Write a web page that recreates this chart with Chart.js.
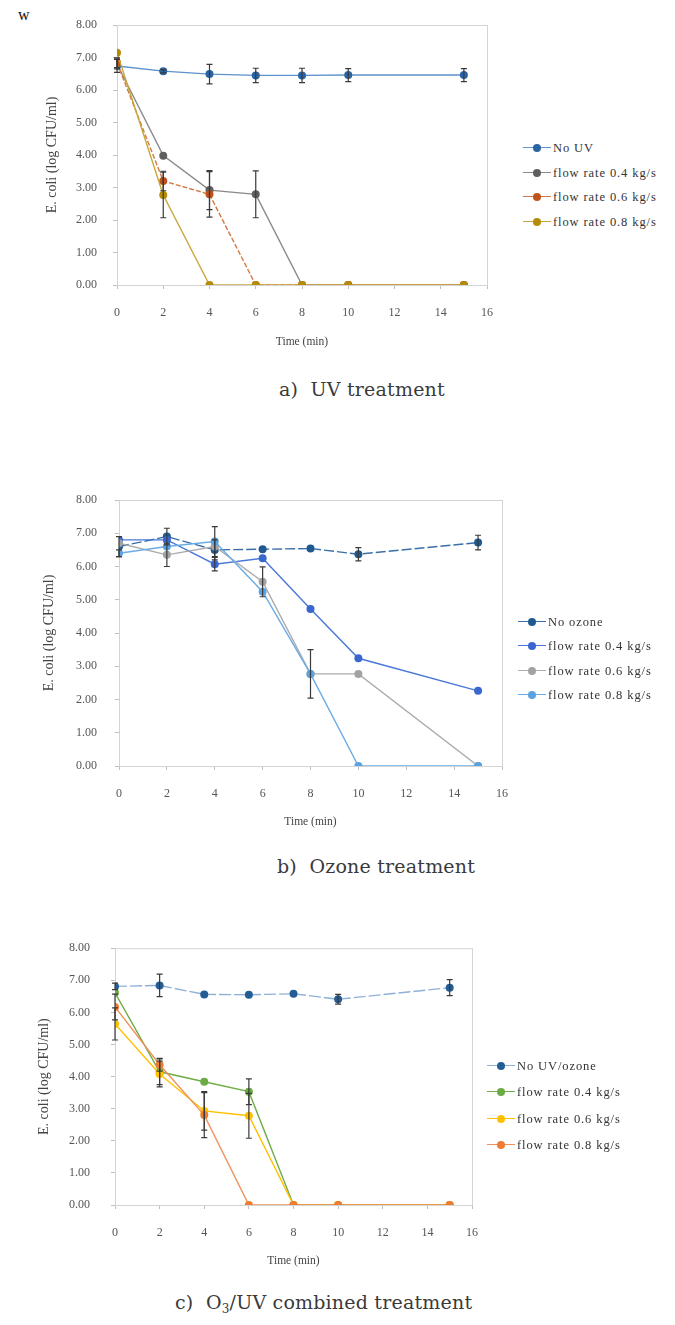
<!DOCTYPE html>
<html>
<head>
<meta charset="utf-8">
<script src="https://cdn.jsdelivr.net/npm/chart.js@4/dist/chart.umd.min.js"></script>
<style>
  body { margin: 0; background: #fff; width: 675px; height: 1325px; position: relative; overflow: hidden; }
  canvas { position: absolute; left: 0; }
  .legend { position: absolute; font-family: "Liberation Serif", serif; font-size: 12.5px; color: #333; letter-spacing: 0.9px; }
  .row { position: absolute; white-space: nowrap; height: 14px; line-height: 14px; }
  .row .ln { position: absolute; left: 0; top: 6px; width: 28px; height: 0; border-top: 1.5px solid; }
  .row .dot { position: absolute; left: 10px; top: 3px; width: 8px; height: 8px; border-radius: 50%; }
  .row .txt { position: absolute; left: 30px; top: 0; }
  .caption { position: absolute; font-family: "DejaVu Serif", serif; font-size: 19px; color: #3a3a3a; white-space: nowrap; letter-spacing: 0.2px; }
  #mark { position: absolute; left: 18px; top: 6px; font-family: "Liberation Serif", serif; font-size: 16px; color: #111; }
</style>
</head>
<body>
<div id="mark">w</div>

<canvas id="uvChart" width="510" height="360" style="top:0px"></canvas>
<canvas id="ozoneChart" width="525" height="380" style="top:470px"></canvas>
<canvas id="comboChart" width="495" height="360" style="top:920px"></canvas>

<div class="legend" id="uvLegend"></div>
<div class="legend" id="ozoneLegend"></div>
<div class="legend" id="comboLegend"></div>

<div class="caption" style="left:279px; top:378px;">a)&nbsp; UV treatment</div>
<div class="caption" style="left:277px; top:855px;">b)&nbsp; Ozone treatment</div>
<div class="caption" style="left:175px; top:1291px;">c)&nbsp; O<span style="font-size:12px; position:relative; top:4px;">3</span>/UV combined treatment</div>

<script>
// sampling times (min)
const times = [0, 2, 4, 6, 8, 10, 15];
const xTicks = [0, 2, 4, 6, 8, 10, 12, 14, 16];

// a) UV treatment
const uvLabels = ["No UV", "flow rate 0.4 kg/s", "flow rate 0.6 kg/s", "flow rate 0.8 kg/s"];
const noUV = [6.74, 6.58, 6.49, 6.45, 6.45, 6.46, 6.46];
const noUVErr = [0.2, 0.05, 0.3, 0.22, 0.22, 0.2, 0.2];
const uv04 = [6.8, 3.98, 2.92, 2.79, 0, 0, 0];
const uv04Err = [0.15, 0, 0.6, 0.72, 0, 0, 0];
const uv06 = [6.84, 3.2, 2.79, 0, 0, 0, 0];
const uv06Err = [0.15, 0.3, 0.7, 0, 0, 0, 0];
const uv08 = [7.15, 2.77, 0, 0, 0, 0, 0];
const uv08Err = [0, 0.7, 0, 0, 0, 0, 0];

// b) Ozone treatment
const ozLabels = ["No ozone", "flow rate 0.4 kg/s", "flow rate 0.6 kg/s", "flow rate 0.8 kg/s"];
const noOzone = [6.6, 6.9, 6.5, 6.52, 6.54, 6.37, 6.72];
const noOzoneErr = [0.3, 0.25, 0.3, 0, 0, 0.2, 0.22];
const oz04 = [6.8, 6.8, 6.07, 6.25, 4.72, 3.24, 2.26];
const oz04Err = [0, 0, 0.2, 0, 0, 0, 0];
const oz06 = [6.7, 6.35, 6.6, 5.54, 2.77, 2.77, 0];
const oz06Err = [0, 0.35, 0, 0.45, 0.73, 0, 0];
const oz08 = [6.4, 6.6, 6.75, 5.24, 2.77, 0, 0];
const oz08Err = [0.1, 0, 0.45, 0, 0, 0, 0];

// c) O3/UV combined treatment
const coLabels = ["No UV/ozone", "flow rate 0.4 kg/s", "flow rate 0.6 kg/s", "flow rate 0.8 kg/s"];
const noUVOzone = [6.81, 6.84, 6.56, 6.55, 6.58, 6.41, 6.77];
const noUVOzoneErr = [0.1, 0.35, 0, 0, 0, 0.15, 0.25];
const co04 = [6.61, 4.15, 3.84, 3.53, 0, 0, 0];
const co04Err = [0, 0.4, 0, 0.4, 0, 0, 0];
const co06 = [5.64, 4.08, 2.93, 2.78, 0, 0, 0];
const co06Err = [0.5, 0.4, 0.6, 0.7, 0, 0, 0];
const co08 = [6.17, 4.37, 2.8, 0, 0, 0, 0];
const co08Err = [0.4, 0.2, 0.7, 0, 0, 0, 0];

const serif = "'Liberation Serif', 'Times New Roman', serif";

// draws error bars and the plot frame through the chart's own scales
const errorBarPlugin = {
  id: "errorBars",
  beforeDatasetsDraw(chart) {
    const { ctx, chartArea } = chart;
    ctx.save();
    ctx.strokeStyle = "#d4d4d4";
    ctx.lineWidth = 1;
    ctx.strokeRect(chartArea.left + 0.5, chartArea.top + 0.5, chartArea.right - chartArea.left, chartArea.bottom - chartArea.top);
    ctx.restore();
  },
  afterDatasetsDraw(chart) {
    const { ctx, scales } = chart;
    ctx.save();
    ctx.strokeStyle = "#3a3a3a";
    ctx.lineWidth = 1.2;
    chart.data.datasets.forEach((ds) => {
      if (!ds.errors) return;
      ds.data.forEach((p, i) => {
        const e = ds.errors[i];
        if (!e) return;
        const x = scales.x.getPixelForValue(p.x);
        const y1 = scales.y.getPixelForValue(p.y + e);
        const y2 = scales.y.getPixelForValue(p.y - e);
        ctx.beginPath();
        ctx.moveTo(x, y1); ctx.lineTo(x, y2);
        ctx.moveTo(x - 3, y1); ctx.lineTo(x + 3, y1);
        ctx.moveTo(x - 3, y2); ctx.lineTo(x + 3, y2);
        ctx.stroke();
      });
    });
    ctx.restore();
  }
};

function series(label, values, errors, lineColor, pointColor, dash, order) {
  return {
    label,
    data: values.map((v, i) => ({ x: times[i], y: v })),
    errors,
    borderColor: lineColor,
    backgroundColor: pointColor,
    pointBackgroundColor: pointColor,
    pointBorderColor: pointColor,
    pointRadius: 4,
    pointBorderWidth: 0,
    borderWidth: 1.4,
    borderDash: dash || [],
    tension: 0,
    order
  };
}

function makeChart(id, datasets, lay) {
  return new Chart(document.getElementById(id), {
    type: "line",
    data: { datasets },
    options: {
      responsive: false,
      animation: false,
      devicePixelRatio: 1,
      layout: { padding: { left: lay.padL, right: lay.padR, top: lay.padT, bottom: lay.padB } },
      plugins: { legend: { display: false }, tooltip: { enabled: false } },
      scales: {
        x: {
          type: "linear",
          min: 0,
          max: 16,
          afterBuildTicks: (axis) => { axis.ticks = xTicks.map((v) => ({ value: v })); },
          afterFit: (scale) => { scale.height = lay.xH; },
          grid: { drawOnChartArea: false, tickLength: 4, color: "#bfbfbf" },
          border: { color: "#bfbfbf" },
          ticks: { padding: 17, color: "#555", font: { family: serif, size: 12 } },
          title: { display: true, text: "Time (min)", color: "#444", padding: 0, font: { family: serif, size: 11.5 } }
        },
        y: {
          min: 0,
          max: 8,
          afterFit: (scale) => { scale.width = lay.yW; },
          grid: { drawOnChartArea: false, tickLength: 4, color: "#bfbfbf" },
          border: { color: "#bfbfbf" },
          ticks: { stepSize: 1, padding: lay.yPad, color: "#555", font: { family: serif, size: 12 }, callback: (v) => v.toFixed(2) },
          title: { display: true, text: "E. coli (log CFU/ml)", color: "#444", padding: { top: 5, bottom: 0 }, font: { family: serif, size: 14 } }
        }
      }
    },
    plugins: [errorBarPlugin]
  });
}

function buildLegend(id, labels, lineColors, pointColors, left, top, step) {
  const box = document.getElementById(id);
  box.style.left = left + "px";
  box.style.top = top + "px";
  labels.forEach((label, i) => {
    const row = document.createElement("div");
    row.className = "row";
    row.style.top = (i * step) + "px";
    row.innerHTML =
      '<span class="ln" style="border-color:' + lineColors[i] + '"></span>' +
      '<span class="dot" style="background:' + pointColors[i] + '"></span>' +
      '<span class="txt">' + label + "</span>";
    box.appendChild(row);
  });
}

// a) UV
const uvLine = ["#5d92cc", "#8a8a8a", "#d27a45", "#c9a63a"];
const uvPoint = ["#2a64a3", "#5f5f5f", "#c0531a", "#b48c08"];
makeChart("uvChart", [
  series(uvLabels[0], noUV, noUVErr, uvLine[0], uvPoint[0], null, 3),
  series(uvLabels[1], uv04, uv04Err, uvLine[1], uvPoint[1], null, 2),
  series(uvLabels[2], uv06, uv06Err, uvLine[2], uvPoint[2], [5, 2], 1),
  series(uvLabels[3], uv08, uv08Err, uvLine[3], uvPoint[3], null, 0)
], { padL: 39, padR: 15, padT: 25, padB: 11, yW: 78, xH: 64, yPad: 16 });
buildLegend("uvLegend", uvLabels, uvLine, uvPoint, 523, 141, 24.6);

// b) Ozone
const ozLine = ["#3a6fa8", "#4a78d8", "#ababab", "#6aace6"];
const ozPoint = ["#1e5a8f", "#3a66d0", "#a3a3a3", "#5aa2e0"];
makeChart("ozoneChart", [
  series(ozLabels[0], noOzone, noOzoneErr, ozLine[0], ozPoint[0], [10, 3], 3),
  series(ozLabels[1], oz04, oz04Err, ozLine[1], ozPoint[1], null, 2),
  series(ozLabels[2], oz06, oz06Err, ozLine[2], ozPoint[2], null, 1),
  series(ozLabels[3], oz08, oz08Err, ozLine[3], ozPoint[3], null, 0)
], { padL: 36, padR: 14, padT: 30, padB: 21, yW: 83, xH: 63, yPad: 18 });
buildLegend("ozoneLegend", ozLabels, ozLine, ozPoint, 518, 615, 24.3);

// c) O3/UV combined
const coLine = ["#8fb0d6", "#70ad47", "#ffc000", "#f0915a"];
const coPoint = ["#245d95", "#6aab44", "#ffc000", "#ed7d31"];
makeChart("comboChart", [
  series(coLabels[0], noUVOzone, noUVOzoneErr, coLine[0], coPoint[0], [12, 3], 3),
  series(coLabels[1], co04, co04Err, coLine[1], coPoint[1], null, 2),
  series(coLabels[2], co06, co06Err, coLine[2], coPoint[2], null, 1),
  series(coLabels[3], co08, co08Err, coLine[3], coPoint[3], null, 0)
], { padL: 31, padR: 14, padT: 26, padB: 12, yW: 84, xH: 63, yPad: 21 });
buildLegend("comboLegend", coLabels, coLine, coPoint, 487, 1059, 26.3);
</script>
</body>
</html>
